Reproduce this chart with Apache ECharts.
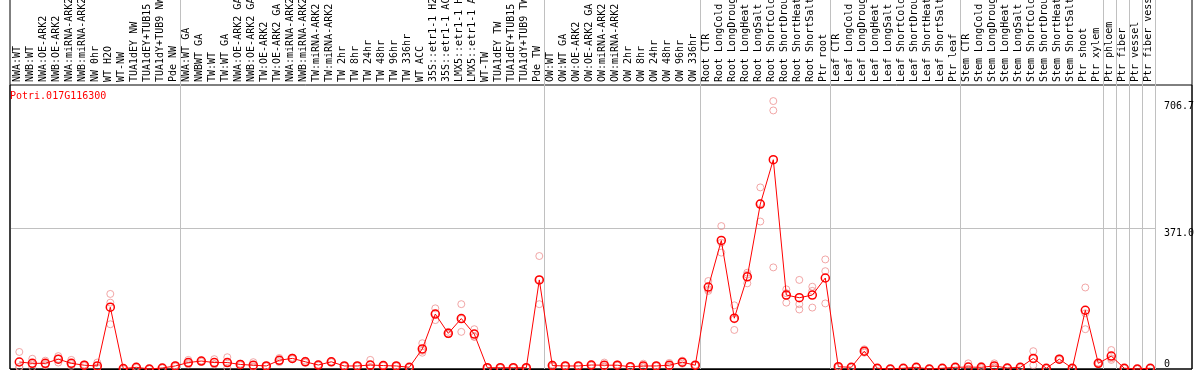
<!DOCTYPE html>
<html><head><meta charset="utf-8">
<script src="https://cdn.jsdelivr.net/npm/echarts@6/dist/echarts.min.js"></script>
<style>html,body{margin:0;padding:0;background:#fff}#c{width:1194px;height:370px}</style>
</head><body><div id="c"></div>
<script>
const chartTitle = 'Potri.017G116300';
const categories = [
 "NWA:WT","NWB:WT","NWA:OE-ARK2","NWB:OE-ARK2","NWA:miRNA-ARK2","NWB:miRNA-ARK2","NW 0hr","WT H2O","WT-NW","TUA1dEY NW","TUA1dEY+TUB15 NW","TUA1dY+TUB9 NW","Pde NW",
 "NWA:WT GA","NWBWT GA","TW:WT","TW:WT GA","NWA:OE-ARK2 GA","NWB:OE-ARK2 GA","TW:OE-ARK2","TW:OE-ARK2 GA","NWA:miRNA-ARK2 GA","NWB:miRNA-ARK2 GA","TW:miRNA-ARK2","TW:miRNA-ARK2 GA","TW 2hr","TW 8hr","TW 24hr","TW 48hr","TW 96hr","TW 336hr","WT ACC","35S::etr1-1 H2O","35S::etr1-1 ACC","LMX5::etr1-1 H2O","LMX5::etr1-1 ACC","WT-TW","TUA1dEY TW","TUA1dEY+TUB15 TW","TUA1dY+TUB9 TW","Pde TW",
 "OW:WT","OW:WT GA","OW:OE-ARK2","OW:OE-ARK2 GA","OW:miRNA-ARK2","OW:miRNA-ARK2 GA","OW 2hr","OW 8hr","OW 24hr","OW 48hr","OW 96hr","OW 336hr",
 "Root CTR","Root LongCold","Root LongDrought","Root LongHeat","Root LongSalt","Root ShortCold","Root ShortDrought","Root ShortHeat","Root ShortSalt","Ptr root",
 "Leaf CTR","Leaf LongCold","Leaf LongDrought","Leaf LongHeat","Leaf LongSalt","Leaf ShortCold","Leaf ShortDrought","Leaf ShortHeat","Leaf ShortSalt","Ptr leaf",
 "Stem CTR","Stem LongCold","Stem LongDrought","Stem LongHeat","Stem LongSalt","Stem ShortCold","Stem ShortDrought","Stem ShortHeat","Stem ShortSalt","Ptr shoot","Ptr xylem",
 "Ptr phloem","Ptr fiber","Ptr vessel","Ptr fiber vessel"
];
const meanValues = [
 18.5,15,15,26,15,10,8,163,1,4.5,0,2.6,8,
 17,21,17,17,12,10,8,23,28,19,10.5,19,8,8,10.5,9,8,4.5,53,145,94,133,92,3.4,3.4,3.4,3.4,235,
 9,8,8,10.5,10,10,6,8,8,10,18,10,
 216,339,134,243,435,552,195,188,195,240,
 6,4.5,47,2,0,2,4.5,0,2,4.5,
 5,4.5,8,2.6,4.5,28,2,26,2,155,15,
 34,2,0,2
];
const rep1 = [
 45,27,22,34,24,12,17,198,1,6,0,3,10,
 24,22,26,31,14,18,9,29,30,22,12,20,9,8,24,10,9,5,68,160,98,171,105,4,4,4,4,298,
 12,9,9,12,17,12,7,14,9,16,22,11,
 232,377,168,254,479,706.7,210,235,217,289,
 7,5,52,2,0,2,5,0,2,5,
 15,8,15,3,6,47,2,28,2,215,17,
 50,2,0,2
];
const rep2 = [
 4.5,5,10,17,8,8,4,175,0,3,0,2,6,
 12,19,12,3,10,5,7,18,26,17,9,18,7,7,2,8,7,4,48,146,92,132,85,3,3,3,3,236,
 7,7,7,9,6,9,5,5,7,6,14,9,
 210,307,103,226,389,682,175,157,162,258,
 5,4,46,2,0,2,4,0,2,4,
 0,2,4,2,3,27,2,24,2,147,13,
 28,2,0,2
];
const rep3 = [
 6,13,13,27,13,10,3,118,2,4.5,0,3,8,
 15,22,13,17,12,7,8,22,28,18,10,19,8,9,5,9,8,4,43,129,92,98,85,3,3,3,3,171,
 8,8,8,10,7,9,6,5,8,8,18,10,
 206,333,131,249,437,268,200,171,206,173,
 6,4.5,43,2,0,2,4.5,0,2,4.5,
 0,4,5,3,4.5,10,2,26,2,105,15,
 24,2,0,2
];
const groupStarts = [13,41,53,63,73,84,85,86,87];
const yUpperLabels = [371.0, 706.7];
const yZeroLabel = [0];
const yGridValues = [371.0];
const yMax = 749.1;

const FONT = 'DejaVu Sans Mono';
const sep = new Set(groupStarts);
const vLines = {show:true, interval:(i)=>sep.has(i), lineStyle:{color:'#c0c0c0', width:1}};
const repData = [];
categories.forEach((c,i)=>{ repData.push([i,rep1[i]],[i,rep2[i]],[i,rep3[i]]); });
const yLab = {show:true, margin:9, color:'#000', fontFamily:FONT, fontSize:10};
const G = {outerBoundsMode:'none', containLabel:false};

const chart = echarts.init(document.getElementById('c'), null, {renderer:'canvas'});
chart.setOption({
 animation:false,
 title:{text:chartTitle, left:10, top:91, padding:0, textStyle:{color:'#ff0000', fontFamily:FONT, fontSize:10, fontWeight:'normal'}},
 grid:[
  Object.assign({left:11, width:1144, top:85, bottom:1}, G),
  Object.assign({left:11, width:1144, top:0, height:85}, G),
  Object.assign({left:10, right:2, top:-10, bottom:1, show:true, borderColor:'#000', borderWidth:1, backgroundColor:'rgba(0,0,0,0)'}, G),
  Object.assign({left:10, right:2, top:85, bottom:1, show:true, borderColor:'#000', borderWidth:1, backgroundColor:'rgba(0,0,0,0)'}, G),
  Object.assign({left:12.8, width:1144, top:85, bottom:1}, G)
 ],
 xAxis:[
  {gridIndex:0, type:'category', data:categories, position:'top', boundaryGap:true,
   axisLine:{show:true, lineStyle:{color:'#000', width:1}}, axisTick:{show:false},
   axisLabel:{show:true, rotate:90, interval:0, margin:3, color:'#000', fontFamily:FONT, fontSize:10, hideOverlap:false},
   splitLine:vLines},
  {gridIndex:1, type:'category', data:categories, boundaryGap:true, axisLine:{show:false}, axisTick:{show:false}, axisLabel:{show:false}, splitLine:vLines},
  {gridIndex:2, type:'value', show:false},
  {gridIndex:3, type:'value', show:false},
  {gridIndex:4, type:'category', data:categories, boundaryGap:true, show:false}
 ],
 yAxis:[
  {gridIndex:0, type:'value', min:0, max:yMax, position:'right', axisLine:{show:false},
   axisTick:{show:false, customValues:yGridValues},
   splitLine:{show:true, lineStyle:{color:'#c0c0c0', width:1}},
   axisLabel:Object.assign({customValues:yUpperLabels, formatter:v=>v.toFixed(1), verticalAlign:'top'}, yLab)},
  {gridIndex:0, type:'value', min:0, max:yMax, position:'right', axisLine:{show:false}, axisTick:{show:false}, splitLine:{show:false},
   axisLabel:Object.assign({customValues:yZeroLabel, formatter:v=>String(v), verticalAlign:'bottom'}, yLab)},
  {gridIndex:1, type:'value', show:false},
  {gridIndex:2, type:'value', show:false},
  {gridIndex:3, type:'value', show:false},
  {gridIndex:4, type:'value', min:0, max:yMax, show:false}
 ],
 series:[
  {type:'scatter', xAxisIndex:4, yAxisIndex:5, data:repData, symbol:'circle', symbolSize:7, silent:true, clip:false,
   itemStyle:{color:'rgba(0,0,0,0)', borderColor:'#ee9090', borderWidth:1}},
  {type:'line', xAxisIndex:4, yAxisIndex:5, data:meanValues, symbol:'circle', symbolSize:8, showAllSymbol:true, silent:true, clip:false,
   itemStyle:{color:'rgba(0,0,0,0)', borderColor:'#ff0000', borderWidth:1.5},
   lineStyle:{color:'#ff0000', width:1}}
 ]
});
</script></body></html>
